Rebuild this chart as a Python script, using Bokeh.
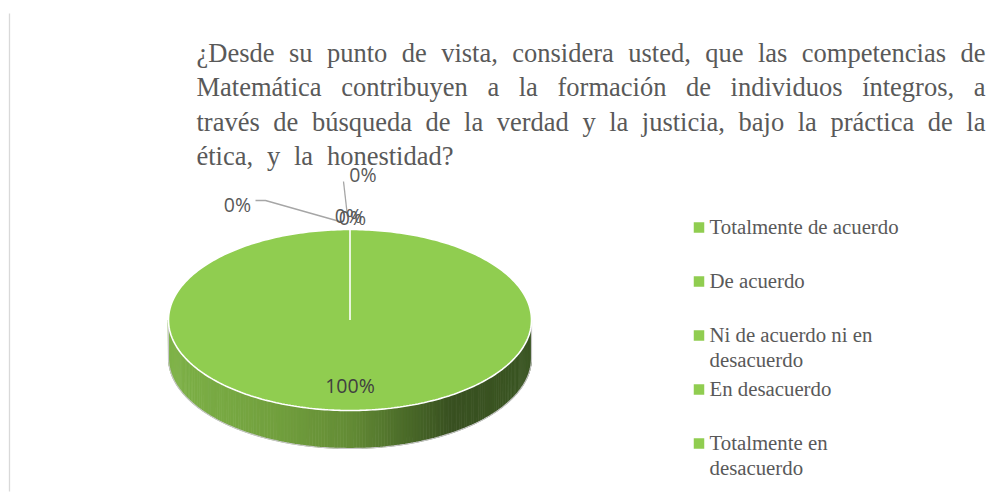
import numpy as np
from bokeh.plotting import figure
from bokeh.models import Range1d
from bokeh.embed import file_html
from bokeh.resources import INLINE
from bokeh.core.properties import value

# ---------------- data ----------------
categories = ["Totalmente de acuerdo", "De acuerdo", "Ni de acuerdo ni en\ndesacuerdo",
              "En desacuerdo", "Totalmente en\ndesacuerdo"]
values = [100, 0, 0, 0, 0]
title_lines = [
    "¿Desde su punto de vista, considera usted, que las competencias de",
    "Matemática contribuyen a la formación de individuos íntegros, a",
    "través de búsqueda de la verdad y la justicia, bajo la práctica de la",
    "ética, y la honestidad?",
]

# ---------------- styles / layout ----------------
W, H = 997, 493
TITLE_FONT = "Liberation Serif"
TITLE_SIZE = 26.5
TITLE_COLOR = "#595959"
LEG_SIZE = 20.8
LABEL_FONT = "Open Sans"
LABEL_SIZE = 19.5
TOP_COLOR = "#90CD50"
BASE_FIX = 0.38  # empirical baseline correction (em)

p = figure(width=W, height=H, output_backend="svg", toolbar_location=None,
           x_range=Range1d(0, W), y_range=Range1d(H, 0),
           min_border=0, outline_line_color=None, background_fill_color="white")
p.axis.visible = False
p.grid.visible = False

# left border line of the page frame
p.segment(x0=[9], y0=[13], x1=[9], y1=[491], line_color="#d9d9d9", line_width=1.3)

# ---- Times metrics (Liberation Serif is metric compatible) for justification ----
_w = {' ': 250, ',': 250, '.': 250, '?': 444, '¿': 444,
      'A': 722, 'B': 667, 'C': 667, 'D': 722, 'E': 611, 'F': 556, 'G': 722, 'H': 722,
      'I': 333, 'J': 389, 'K': 722, 'L': 611, 'M': 889, 'N': 722, 'O': 722, 'P': 556,
      'Q': 722, 'R': 667, 'S': 556, 'T': 611, 'U': 722, 'V': 722, 'W': 944, 'X': 722,
      'Y': 722, 'Z': 611,
      'a': 444, 'b': 500, 'c': 444, 'd': 500, 'e': 444, 'f': 333, 'g': 500, 'h': 500,
      'i': 278, 'j': 278, 'k': 500, 'l': 278, 'm': 778, 'n': 500, 'o': 500, 'p': 500,
      'q': 500, 'r': 333, 's': 389, 't': 278, 'u': 500, 'v': 500, 'w': 722, 'x': 500,
      'y': 500, 'z': 444, 'á': 444, 'é': 444, 'í': 278, 'ó': 500, 'ú': 500, 'ñ': 500}


def tw(s, size):
    return sum(_w.get(c, 500) for c in s) / 1000.0 * size


TX0, TX1, TX_LAST = 196, 985, 453
TY0, TDY = 62.5, 34.5
wx, wy, wt = [], [], []
for i, line in enumerate(title_lines):
    words = line.split(" ")
    y = TY0 + i * TDY - BASE_FIX * TITLE_SIZE
    right = TX1 if i < len(title_lines) - 1 else TX_LAST
    total_w = sum(tw(w_, TITLE_SIZE) for w_ in words)
    gap = (right - TX0 - total_w) / (len(words) - 1)
    x = TX0
    for w_ in words:
        wx.append(x); wy.append(y); wt.append(w_)
        x += tw(w_, TITLE_SIZE) + gap
p.text(x=wx, y=wy, text=wt, text_font=value(TITLE_FONT), text_font_size=f"{TITLE_SIZE}px",
       text_color=TITLE_COLOR, text_baseline="alphabetic", text_align="left")

# ---------------- 3D pie ----------------
cx, cy, rx, ry, depth = 349.5, 319.5, 181.5, 90.5, 38
total = float(sum(values))
fracs = [v / total for v in values]
starts = np.cumsum([0] + fracs[:-1]) * 2 * np.pi
ends = starts + np.array(fracs) * 2 * np.pi


def ex(t):
    return cx + rx * np.sin(t)


def ey(t):
    return cy - ry * np.cos(t)


# side gradient colour by horizontal position
stops_u = [0.0, 0.3, 0.5, 0.65, 0.78, 1.0]
stops_c = np.array([(126, 178, 72), (114, 160, 62), (100, 140, 54), (76, 108, 42),
                    (57, 81, 33), (60, 87, 36)])


def side_color(xm):
    u = (xm - (cx - rx)) / (2 * rx)
    r, g, b = (int(np.interp(u, stops_u, stops_c[:, k])) for k in range(3))
    return f"#{r:02x}{g:02x}{b:02x}"


sx, sy, sc = [], [], []
front0, front1 = np.pi / 2, 3 * np.pi / 2
for s, e, f in zip(starts, ends, fracs):
    if f <= 0:
        continue
    a0, a1 = max(s, front0), min(e, front1)
    if a1 <= a0:
        continue
    ts = np.linspace(a0, a1, 181)
    for t0, t1 in zip(ts[:-1], ts[1:]):
        xs = [ex(t0), ex(t1) + 0.3 * np.sign(ex(t1) - ex(t0)), ex(t1), ex(t0)]
        ys = [ey(t0), ey(t1), ey(t1) + depth, ey(t0) + depth]
        sx.append(xs); sy.append(ys); sc.append(side_color((ex(t0) + ex(t1)) / 2))
p.patches(xs=sx, ys=sy, fill_color=sc, line_color=sc, line_width=0.6)

# outline of the side
tf = np.linspace(front0, front1, 200)
ox = [ex(front0)] + list(ex(tf)) + [ex(front1)]
oy = [ey(front0)] + list(ey(tf) + depth) + [ey(front1)]
p.line(ox, oy, line_color="#c6c6c6", line_width=1.2)

# top face
for s, e, f in zip(starts, ends, fracs):
    if f <= 0:
        continue
    ts = np.linspace(s, e, 361)
    xs = [cx] + list(ex(ts))
    ys = [cy] + list(ey(ts))
    p.patch(xs, ys, fill_color=TOP_COLOR, line_color="white", line_width=1.6)

# ---------------- data labels ----------------
labels = [f"{round(v / total * 100)}%" for v in values]
lab_x, lab_y, lab_t = [], [], []
zero_pos = [(237, 204), (362.5, 174), (348, 214.5), (352, 217)]
zi = 0
for s, e, f, t in zip(starts, ends, fracs, labels):
    if f > 0:
        m = (s + e) / 2
        lab_x.append(cx + 0.72 * rx * np.sin(m)); lab_y.append(cy - 0.72 * ry * np.cos(m) + 0.5)
    else:
        lab_x.append(zero_pos[zi][0]); lab_y.append(zero_pos[zi][1]); zi += 1
    lab_t.append(t)

# leader lines
p.line([255, 265, 341], [200, 200, 221.5], line_color="#a6a6a6", line_width=1.3)
p.line([343, 347], [181, 216], line_color="#a6a6a6", line_width=1.3)

lab_col = ["#404040" if f > 0 else "#595959" for f in fracs]
p.text(x=lab_x, y=lab_y, text=lab_t, text_font=value(LABEL_FONT),
       text_font_size=f"{LABEL_SIZE}px", text_color=lab_col,
       text_align="center", text_baseline="middle")

# ---------------- legend ----------------
LX, LY0, LDY = 698.5, 227, 54
p.rect(x=[LX] * len(categories), y=[LY0 + i * LDY for i in range(len(categories))],
       width=10.5, height=10.5, fill_color=TOP_COLOR, line_color=None)
gx, gy, gt = [], [], []
for i, c in enumerate(categories):
    for j, part in enumerate(c.split("\n")):
        gx.append(709)
        gy.append(LY0 + i * LDY + 7 + j * 25 - BASE_FIX * LEG_SIZE)
        gt.append(part)
p.text(x=gx, y=gy, text=gt, text_font=value(TITLE_FONT), text_font_size=f"{LEG_SIZE}px",
       text_color="#595959", text_baseline="alphabetic", text_align="left")

open("out.html", "w").write(file_html(p, INLINE))
